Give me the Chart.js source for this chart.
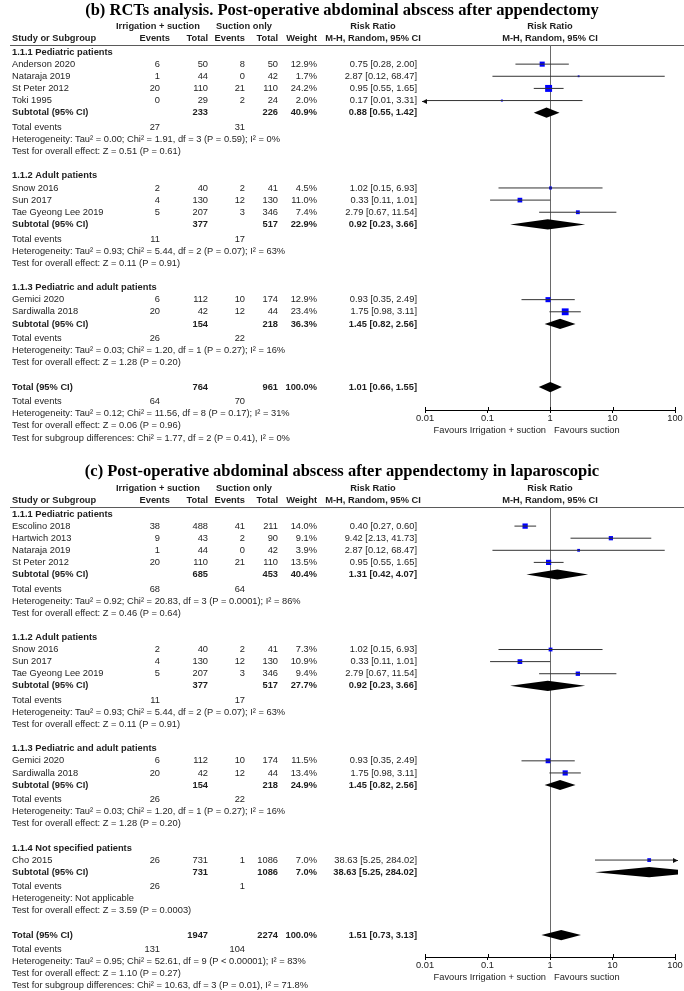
<!DOCTYPE html>
<html>
<head>
<meta charset="utf-8">
<script src="https://cdn.jsdelivr.net/npm/chart.js@4.4.1/dist/chart.umd.min.js"></script>
<style>
  html, body { margin: 0; padding: 0; background: #fff; }
  #wrap { position: relative; width: 684px; height: 991px; overflow: hidden; }
  canvas { position: absolute; left: 0; }
</style>
</head>
<body>
<div id="wrap">
  <canvas id="plotB" width="684" height="448" style="top:0"></canvas>
  <canvas id="plotC" width="684" height="543" style="top:448px"></canvas>
</div>
<script>
// risk ratio axis
const TICK_VALUES = [0.01, 0.1, 1, 10, 100];
const TICK_LABELS = ['0.01', '0.1', '1', '10', '100'];

// ---- (b) RCTs analysis ----
const bTitle = '(b) RCTs analysis. Post-operative abdominal abscess after appendectomy';
const bGroups = ['1.1.1 Pediatric patients', '1.1.2 Adult patients', '1.1.3 Pediatric and adult patients'];
const bStudies = ['Anderson 2020', 'Nataraja 2019', 'St Peter 2012', 'Toki 1995', 'Snow 2016', 'Sun 2017', 'Tae Gyeong Lee 2019', 'Gemici 2020', 'Sardiwalla 2018'];
const bStudyGroup = [0, 0, 0, 0, 1, 1, 1, 2, 2];
const bEventsIrr = [6, 1, 20, 0, 2, 4, 5, 6, 20];
const bTotalIrr = [50, 44, 110, 29, 40, 130, 207, 112, 42];
const bEventsSuc = [8, 0, 21, 2, 2, 12, 3, 10, 12];
const bTotalSuc = [50, 42, 110, 24, 41, 130, 346, 174, 44];
const bWeight = [12.9, 1.7, 24.2, 2.0, 4.5, 11.0, 7.4, 12.9, 23.4];
const bRR = [0.75, 2.87, 0.95, 0.17, 1.02, 0.33, 2.79, 0.93, 1.75];
const bLow = [0.28, 0.12, 0.55, 0.01, 0.15, 0.11, 0.67, 0.35, 0.98];
const bHigh = [2.00, 68.47, 1.65, 3.31, 6.93, 1.01, 11.54, 2.49, 3.11];
const bSubTotalIrr = [233, 377, 154];
const bSubTotalSuc = [226, 517, 218];
const bSubEventsIrr = [27, 11, 26];
const bSubEventsSuc = [31, 17, 22];
const bSubWeight = [40.9, 22.9, 36.3];
const bSubRR = [0.88, 0.92, 1.45];
const bSubLow = [0.55, 0.23, 0.82];
const bSubHigh = [1.42, 3.66, 2.56];
const bSubHet = [
  'Heterogeneity: Tau² = 0.00; Chi² = 1.91, df = 3 (P = 0.59); I² = 0%',
  'Heterogeneity: Tau² = 0.93; Chi² = 5.44, df = 2 (P = 0.07); I² = 63%',
  'Heterogeneity: Tau² = 0.03; Chi² = 1.20, df = 1 (P = 0.27); I² = 16%'
];
const bSubTest = [
  'Test for overall effect: Z = 0.51 (P = 0.61)',
  'Test for overall effect: Z = 0.11 (P = 0.91)',
  'Test for overall effect: Z = 1.28 (P = 0.20)'
];
const bAllTotals = [764, 961];
const bAllEvents = [64, 70];
const bAllEffect = [1.01, 0.66, 1.55];
const bAllNotes = [
  'Heterogeneity: Tau² = 0.12; Chi² = 11.56, df = 8 (P = 0.17); I² = 31%',
  'Test for overall effect: Z = 0.06 (P = 0.96)',
  'Test for subgroup differences: Chi² = 1.77, df = 2 (P = 0.41), I² = 0%'
];

// ---- (c) laparoscopic ----
const cTitle = '(c) Post-operative abdominal abscess after appendectomy in laparoscopic';
const cGroups = ['1.1.1 Pediatric patients', '1.1.2 Adult patients', '1.1.3 Pediatric and adult patients', '1.1.4 Not specified patients'];
const cStudies = ['Escolino 2018', 'Hartwich 2013', 'Nataraja 2019', 'St Peter 2012', 'Snow 2016', 'Sun 2017', 'Tae Gyeong Lee 2019', 'Gemici 2020', 'Sardiwalla 2018', 'Cho 2015'];
const cStudyGroup = [0, 0, 0, 0, 1, 1, 1, 2, 2, 3];
const cEventsIrr = [38, 9, 1, 20, 2, 4, 5, 6, 20, 26];
const cTotalIrr = [488, 43, 44, 110, 40, 130, 207, 112, 42, 731];
const cEventsSuc = [41, 2, 0, 21, 2, 12, 3, 10, 12, 1];
const cTotalSuc = [211, 90, 42, 110, 41, 130, 346, 174, 44, 1086];
const cWeight = [14.0, 9.1, 3.9, 13.5, 7.3, 10.9, 9.4, 11.5, 13.4, 7.0];
const cRR = [0.40, 9.42, 2.87, 0.95, 1.02, 0.33, 2.79, 0.93, 1.75, 38.63];
const cLow = [0.27, 2.13, 0.12, 0.55, 0.15, 0.11, 0.67, 0.35, 0.98, 5.25];
const cHigh = [0.60, 41.73, 68.47, 1.65, 6.93, 1.01, 11.54, 2.49, 3.11, 284.02];
const cSubTotalIrr = [685, 377, 154, 731];
const cSubTotalSuc = [453, 517, 218, 1086];
const cSubEventsIrr = [68, 11, 26, 26];
const cSubEventsSuc = [64, 17, 22, 1];
const cSubWeight = [40.4, 27.7, 24.9, 7.0];
const cSubRR = [1.31, 0.92, 1.45, 38.63];
const cSubLow = [0.42, 0.23, 0.82, 5.25];
const cSubHigh = [4.07, 3.66, 2.56, 284.02];
const cSubHet = [
  'Heterogeneity: Tau² = 0.92; Chi² = 20.83, df = 3 (P = 0.0001); I² = 86%',
  'Heterogeneity: Tau² = 0.93; Chi² = 5.44, df = 2 (P = 0.07); I² = 63%',
  'Heterogeneity: Tau² = 0.03; Chi² = 1.20, df = 1 (P = 0.27); I² = 16%',
  'Heterogeneity: Not applicable'
];
const cSubTest = [
  'Test for overall effect: Z = 0.46 (P = 0.64)',
  'Test for overall effect: Z = 0.11 (P = 0.91)',
  'Test for overall effect: Z = 1.28 (P = 0.20)',
  'Test for overall effect: Z = 3.59 (P = 0.0003)'
];
const cAllTotals = [1947, 2274];
const cAllEvents = [131, 104];
const cAllEffect = [1.51, 0.73, 3.13];
const cAllNotes = [
  'Heterogeneity: Tau² = 0.95; Chi² = 52.61, df = 9 (P < 0.00001); I² = 83%',
  'Test for overall effect: Z = 1.10 (P = 0.27)',
  'Test for subgroup differences: Chi² = 10.63, df = 3 (P = 0.01), I² = 71.8%'
];

const FONT = '"Liberation Sans", Arial, Helvetica, sans-serif';
const TITLE_FONT = 'bold 16.5px "Liberation Serif", "Times New Roman", serif';
const TEXT_SIZE = 9.3;
const TEXT_COLOR = '#1e1e1e';
// right edges of the table columns
const COL = { name: 12, ev1: 160, tot1: 208, ev2: 245, tot2: 278, weight: 317, effect: 417, rrMid: 373 };

const fmt = v => v.toFixed(2);
const effectText = (rr, lo, hi) => `${fmt(rr)} [${fmt(lo)}, ${fmt(hi)}]`;

function buildRows(P) {
  const rows = [];
  let pos = 0;
  P.groups.forEach((g, gi) => {
    rows.push({ kind: 'group', pos, text: g });
    P.studies.forEach((s, i) => {
      if (P.studyGroup[i] === gi) { pos += 1; rows.push({ kind: 'study', pos, i }); }
    });
    pos += 1; rows.push({ kind: 'subtotal', pos, gi });
    pos += 1.2; rows.push({ kind: 'events', pos, gi });
    pos += 1; rows.push({ kind: 'note', pos, text: P.subHet[gi] });
    pos += 1; rows.push({ kind: 'note', pos, text: P.subTest[gi] });
    pos += 2;
  });
  rows.push({ kind: 'overall', pos });
  pos += 1.2; rows.push({ kind: 'allEvents', pos });
  P.allNotes.forEach(t => { pos += 1; rows.push({ kind: 'note', pos, text: t }); });
  return rows;
}

function setFont(ctx, bold) {
  ctx.font = `${bold ? 'bold ' : ''}${TEXT_SIZE}px ${FONT}`;
}
function put(ctx, text, x, y, align) {
  ctx.textAlign = align || 'left';
  ctx.fillText(text, x, y);
}

function forestPlugin(P, rows, geom) {
  return {
    id: 'forest',
    beforeDatasetsDraw(chart) {
      const { ctx, chartArea: a, scales: { x } } = chart;
      ctx.save();
      ctx.strokeStyle = '#5a5a5a';
      ctx.lineWidth = 1.2;
      ctx.beginPath(); ctx.moveTo(10, a.top + 0.5); ctx.lineTo(684, a.top + 0.5); ctx.stroke();
      const x1 = Math.round(x.getPixelForValue(1)) + 0.5;
      ctx.strokeStyle = '#6a6a6a';
      ctx.lineWidth = 1;
      ctx.beginPath(); ctx.moveTo(x1, a.top); ctx.lineTo(x1, a.bottom); ctx.stroke();
      ctx.restore();
    },
    afterDatasetsDraw(chart) {
      const { ctx, chartArea: a, scales: { x, y } } = chart;
      ctx.save();
      // summary diamonds
      ctx.fillStyle = '#000';
      rows.forEach(r => {
        let est, lo, hi;
        if (r.kind === 'subtotal') { est = P.subRR[r.gi]; lo = P.subLow[r.gi]; hi = P.subHigh[r.gi]; }
        else if (r.kind === 'overall') { [est, lo, hi] = P.allEffect; }
        else return;
        const yc = y.getPixelForValue(r.pos);
        const yt = y.getPixelForValue(r.pos - 0.42);
        const yb = y.getPixelForValue(r.pos + 0.42);
        ctx.save();
        ctx.beginPath(); ctx.rect(a.left - 3, a.top, a.width + 6, a.height); ctx.clip();
        ctx.beginPath();
        ctx.moveTo(x.getPixelForValue(lo), yc);
        ctx.lineTo(x.getPixelForValue(est), yt);
        ctx.lineTo(x.getPixelForValue(hi), yc);
        ctx.lineTo(x.getPixelForValue(est), yb);
        ctx.closePath(); ctx.fill();
        ctx.restore();
      });
      // arrows for intervals beyond the axis
      ctx.strokeStyle = '#333'; ctx.fillStyle = '#111'; ctx.lineWidth = 1;
      rows.filter(r => r.kind === 'study').forEach(r => {
        const yp = Math.round(y.getPixelForValue(r.pos)) + 0.5;
        const ends = [];
        if (P.low[r.i] <= TICK_VALUES[0]) ends.push([x.getPixelForValue(TICK_VALUES[0]), -1]);
        if (P.high[r.i] >= TICK_VALUES[TICK_VALUES.length - 1]) ends.push([x.getPixelForValue(TICK_VALUES[TICK_VALUES.length - 1]), 1]);
        ends.forEach(([xb, dir]) => {
          const tip = xb + dir * 3;
          ctx.beginPath(); ctx.moveTo(xb, yp); ctx.lineTo(tip, yp); ctx.stroke();
          ctx.beginPath(); ctx.moveTo(tip, yp); ctx.lineTo(tip - dir * 5, yp - 2.5); ctx.lineTo(tip - dir * 5, yp + 2.5); ctx.closePath(); ctx.fill();
        });
      });
      ctx.restore();
    },
    afterDraw(chart) {
      const { ctx, chartArea: a, scales: { x, y } } = chart;
      ctx.save();
      ctx.textBaseline = 'middle';
      ctx.fillStyle = '#000';
      ctx.font = TITLE_FONT;
      put(ctx, P.title, 342, geom.titleY, 'center');

      // headers
      ctx.fillStyle = TEXT_COLOR;
      setFont(ctx, true);
      const h1 = a.top - 19, h2 = a.top - 7;
      const xOne = x.getPixelForValue(1);
      put(ctx, 'Irrigation + suction', 158, h1, 'center');
      put(ctx, 'Suction only', 244, h1, 'center');
      put(ctx, 'Risk Ratio', COL.rrMid, h1, 'center');
      put(ctx, 'Risk Ratio', xOne, h1, 'center');
      put(ctx, 'Study or Subgroup', COL.name, h2);
      put(ctx, 'Events', 170, h2, 'right');
      put(ctx, 'Total', COL.tot1, h2, 'right');
      put(ctx, 'Events', COL.ev2, h2, 'right');
      put(ctx, 'Total', COL.tot2, h2, 'right');
      put(ctx, 'Weight', COL.weight, h2, 'right');
      put(ctx, 'M-H, Random, 95% CI', COL.rrMid, h2, 'center');
      put(ctx, 'M-H, Random, 95% CI', xOne, h2, 'center');

      rows.forEach(r => {
        const yp = y.getPixelForValue(r.pos);
        if (r.kind === 'group') {
          setFont(ctx, true); put(ctx, r.text, COL.name, yp);
        } else if (r.kind === 'study') {
          const i = r.i;
          setFont(ctx, false);
          put(ctx, P.studies[i], COL.name, yp);
          put(ctx, String(P.evIrr[i]), COL.ev1, yp, 'right');
          put(ctx, String(P.totIrr[i]), COL.tot1, yp, 'right');
          put(ctx, String(P.evSuc[i]), COL.ev2, yp, 'right');
          put(ctx, String(P.totSuc[i]), COL.tot2, yp, 'right');
          put(ctx, P.weight[i].toFixed(1) + '%', COL.weight, yp, 'right');
          put(ctx, effectText(P.rr[i], P.low[i], P.high[i]), COL.effect, yp, 'right');
        } else if (r.kind === 'subtotal') {
          const k = r.gi;
          setFont(ctx, true);
          put(ctx, 'Subtotal (95% CI)', COL.name, yp);
          put(ctx, String(P.subTotIrr[k]), COL.tot1, yp, 'right');
          put(ctx, String(P.subTotSuc[k]), COL.tot2, yp, 'right');
          put(ctx, P.subWeight[k].toFixed(1) + '%', COL.weight, yp, 'right');
          put(ctx, effectText(P.subRR[k], P.subLow[k], P.subHigh[k]), COL.effect, yp, 'right');
        } else if (r.kind === 'events' || r.kind === 'allEvents') {
          const e1 = r.kind === 'events' ? P.subEvIrr[r.gi] : P.allEvents[0];
          const e2 = r.kind === 'events' ? P.subEvSuc[r.gi] : P.allEvents[1];
          setFont(ctx, false);
          put(ctx, 'Total events', COL.name, yp);
          put(ctx, String(e1), COL.ev1, yp, 'right');
          put(ctx, String(e2), COL.ev2, yp, 'right');
        } else if (r.kind === 'note') {
          setFont(ctx, false); put(ctx, r.text, COL.name, yp);
        } else if (r.kind === 'overall') {
          setFont(ctx, true);
          put(ctx, 'Total (95% CI)', COL.name, yp);
          put(ctx, String(P.allTotals[0]), COL.tot1, yp, 'right');
          put(ctx, String(P.allTotals[1]), COL.tot2, yp, 'right');
          put(ctx, '100.0%', COL.weight, yp, 'right');
          put(ctx, effectText(...P.allEffect), COL.effect, yp, 'right');
        }
      });

      // small upward ticks so the axis marks cross the line
      ctx.strokeStyle = '#000'; ctx.lineWidth = 1;
      TICK_VALUES.forEach(v => {
        const xp = Math.round(x.getPixelForValue(v)) + 0.5;
        ctx.beginPath(); ctx.moveTo(xp, a.bottom - 3); ctx.lineTo(xp, a.bottom); ctx.stroke();
      });
      setFont(ctx, false);
      ctx.fillStyle = TEXT_COLOR;
      put(ctx, 'Favours Irrigation + suction', xOne - 4, a.bottom + 20, 'right');
      put(ctx, 'Favours suction', xOne + 4, a.bottom + 20, 'left');
      ctx.restore();
    }
  };
}

function makeForest(canvasId, P, geom) {
  const rows = buildRows(P);
  const studyRows = rows.filter(r => r.kind === 'study');
  const lo = TICK_VALUES[0], hi = TICK_VALUES[TICK_VALUES.length - 1];

  const datasets = studyRows.map(r => ({
    data: [{ x: Math.max(P.low[r.i], lo), y: r.pos }, { x: Math.min(P.high[r.i], hi), y: r.pos }],
    showLine: true,
    borderColor: '#333',
    borderWidth: 1,
    pointRadius: 0
  }));
  datasets.push({
    data: studyRows.map(r => ({ x: P.rr[r.i], y: r.pos })),
    pointStyle: 'rect',
    pointRadius: studyRows.map(r => Math.max(1.1, Math.sqrt(P.weight[r.i]))),
    pointBackgroundColor: '#0000ff',
    pointBorderColor: '#0000ff',
    pointBorderWidth: 0,
    clip: false
  });

  const yMin = -(geom.row0 - geom.top) / geom.pitch;
  const yMax = (geom.axisY - geom.row0) / geom.pitch;

  const chart = new Chart(document.getElementById(canvasId), {
    type: 'scatter',
    data: { datasets },
    options: {
      responsive: false,
      animation: false,
      devicePixelRatio: 1,
      events: [],
      layout: { padding: { top: geom.top, left: 425, right: 9, bottom: 20 } },
      plugins: { legend: { display: false }, tooltip: { enabled: false } },
      scales: {
        x: {
          type: 'logarithmic',
          min: lo,
          max: hi,
          afterBuildTicks: s => { s.ticks = TICK_VALUES.map(v => ({ value: v })); },
          ticks: {
            autoSkip: false,
            maxRotation: 0,
            padding: 0,
            color: '#222',
            font: { family: FONT, size: TEXT_SIZE },
            callback: v => TICK_LABELS[TICK_VALUES.indexOf(v)] ?? ''
          },
          grid: { drawOnChartArea: false, tickLength: 3, color: '#000' },
          border: { color: '#000', width: 1 }
        },
        y: { type: 'linear', reverse: true, min: yMin, max: yMax, display: false }
      }
    },
    plugins: [forestPlugin(P, rows, geom)]
  });
  const diff = chart.chartArea.bottom - geom.axisY;
  if (Math.abs(diff) > 0.01) {
    chart.options.layout.padding.bottom += diff;
    chart.update();
  }
  return chart;
}

function panel(t, groups, studies, sg, evI, totI, evS, totS, w, rr, low, high,
               sTI, sTS, sEI, sES, sW, sRR, sLo, sHi, sHet, sTest, aT, aE, aEff, aN) {
  return { title: t, groups, studies, studyGroup: sg, evIrr: evI, totIrr: totI, evSuc: evS, totSuc: totS,
           weight: w, rr, low, high, subTotIrr: sTI, subTotSuc: sTS, subEvIrr: sEI, subEvSuc: sES,
           subWeight: sW, subRR: sRR, subLow: sLo, subHigh: sHi, subHet: sHet, subTest: sTest,
           allTotals: aT, allEvents: aE, allEffect: aEff, allNotes: aN };
}

makeForest('plotB',
  panel(bTitle, bGroups, bStudies, bStudyGroup, bEventsIrr, bTotalIrr, bEventsSuc, bTotalSuc, bWeight, bRR, bLow, bHigh,
        bSubTotalIrr, bSubTotalSuc, bSubEventsIrr, bSubEventsSuc, bSubWeight, bSubRR, bSubLow, bSubHigh, bSubHet, bSubTest,
        bAllTotals, bAllEvents, bAllEffect, bAllNotes),
  { titleY: 11, top: 45, row0: 52, pitch: 12.14, axisY: 410 });

makeForest('plotC',
  panel(cTitle, cGroups, cStudies, cStudyGroup, cEventsIrr, cTotalIrr, cEventsSuc, cTotalSuc, cWeight, cRR, cLow, cHigh,
        cSubTotalIrr, cSubTotalSuc, cSubEventsIrr, cSubEventsSuc, cSubWeight, cSubRR, cSubLow, cSubHigh, cSubHet, cSubTest,
        cAllTotals, cAllEvents, cAllEffect, cAllNotes),
  { titleY: 24, top: 59, row0: 66, pitch: 12.1, axisY: 509 });
</script>
</body>
</html>
